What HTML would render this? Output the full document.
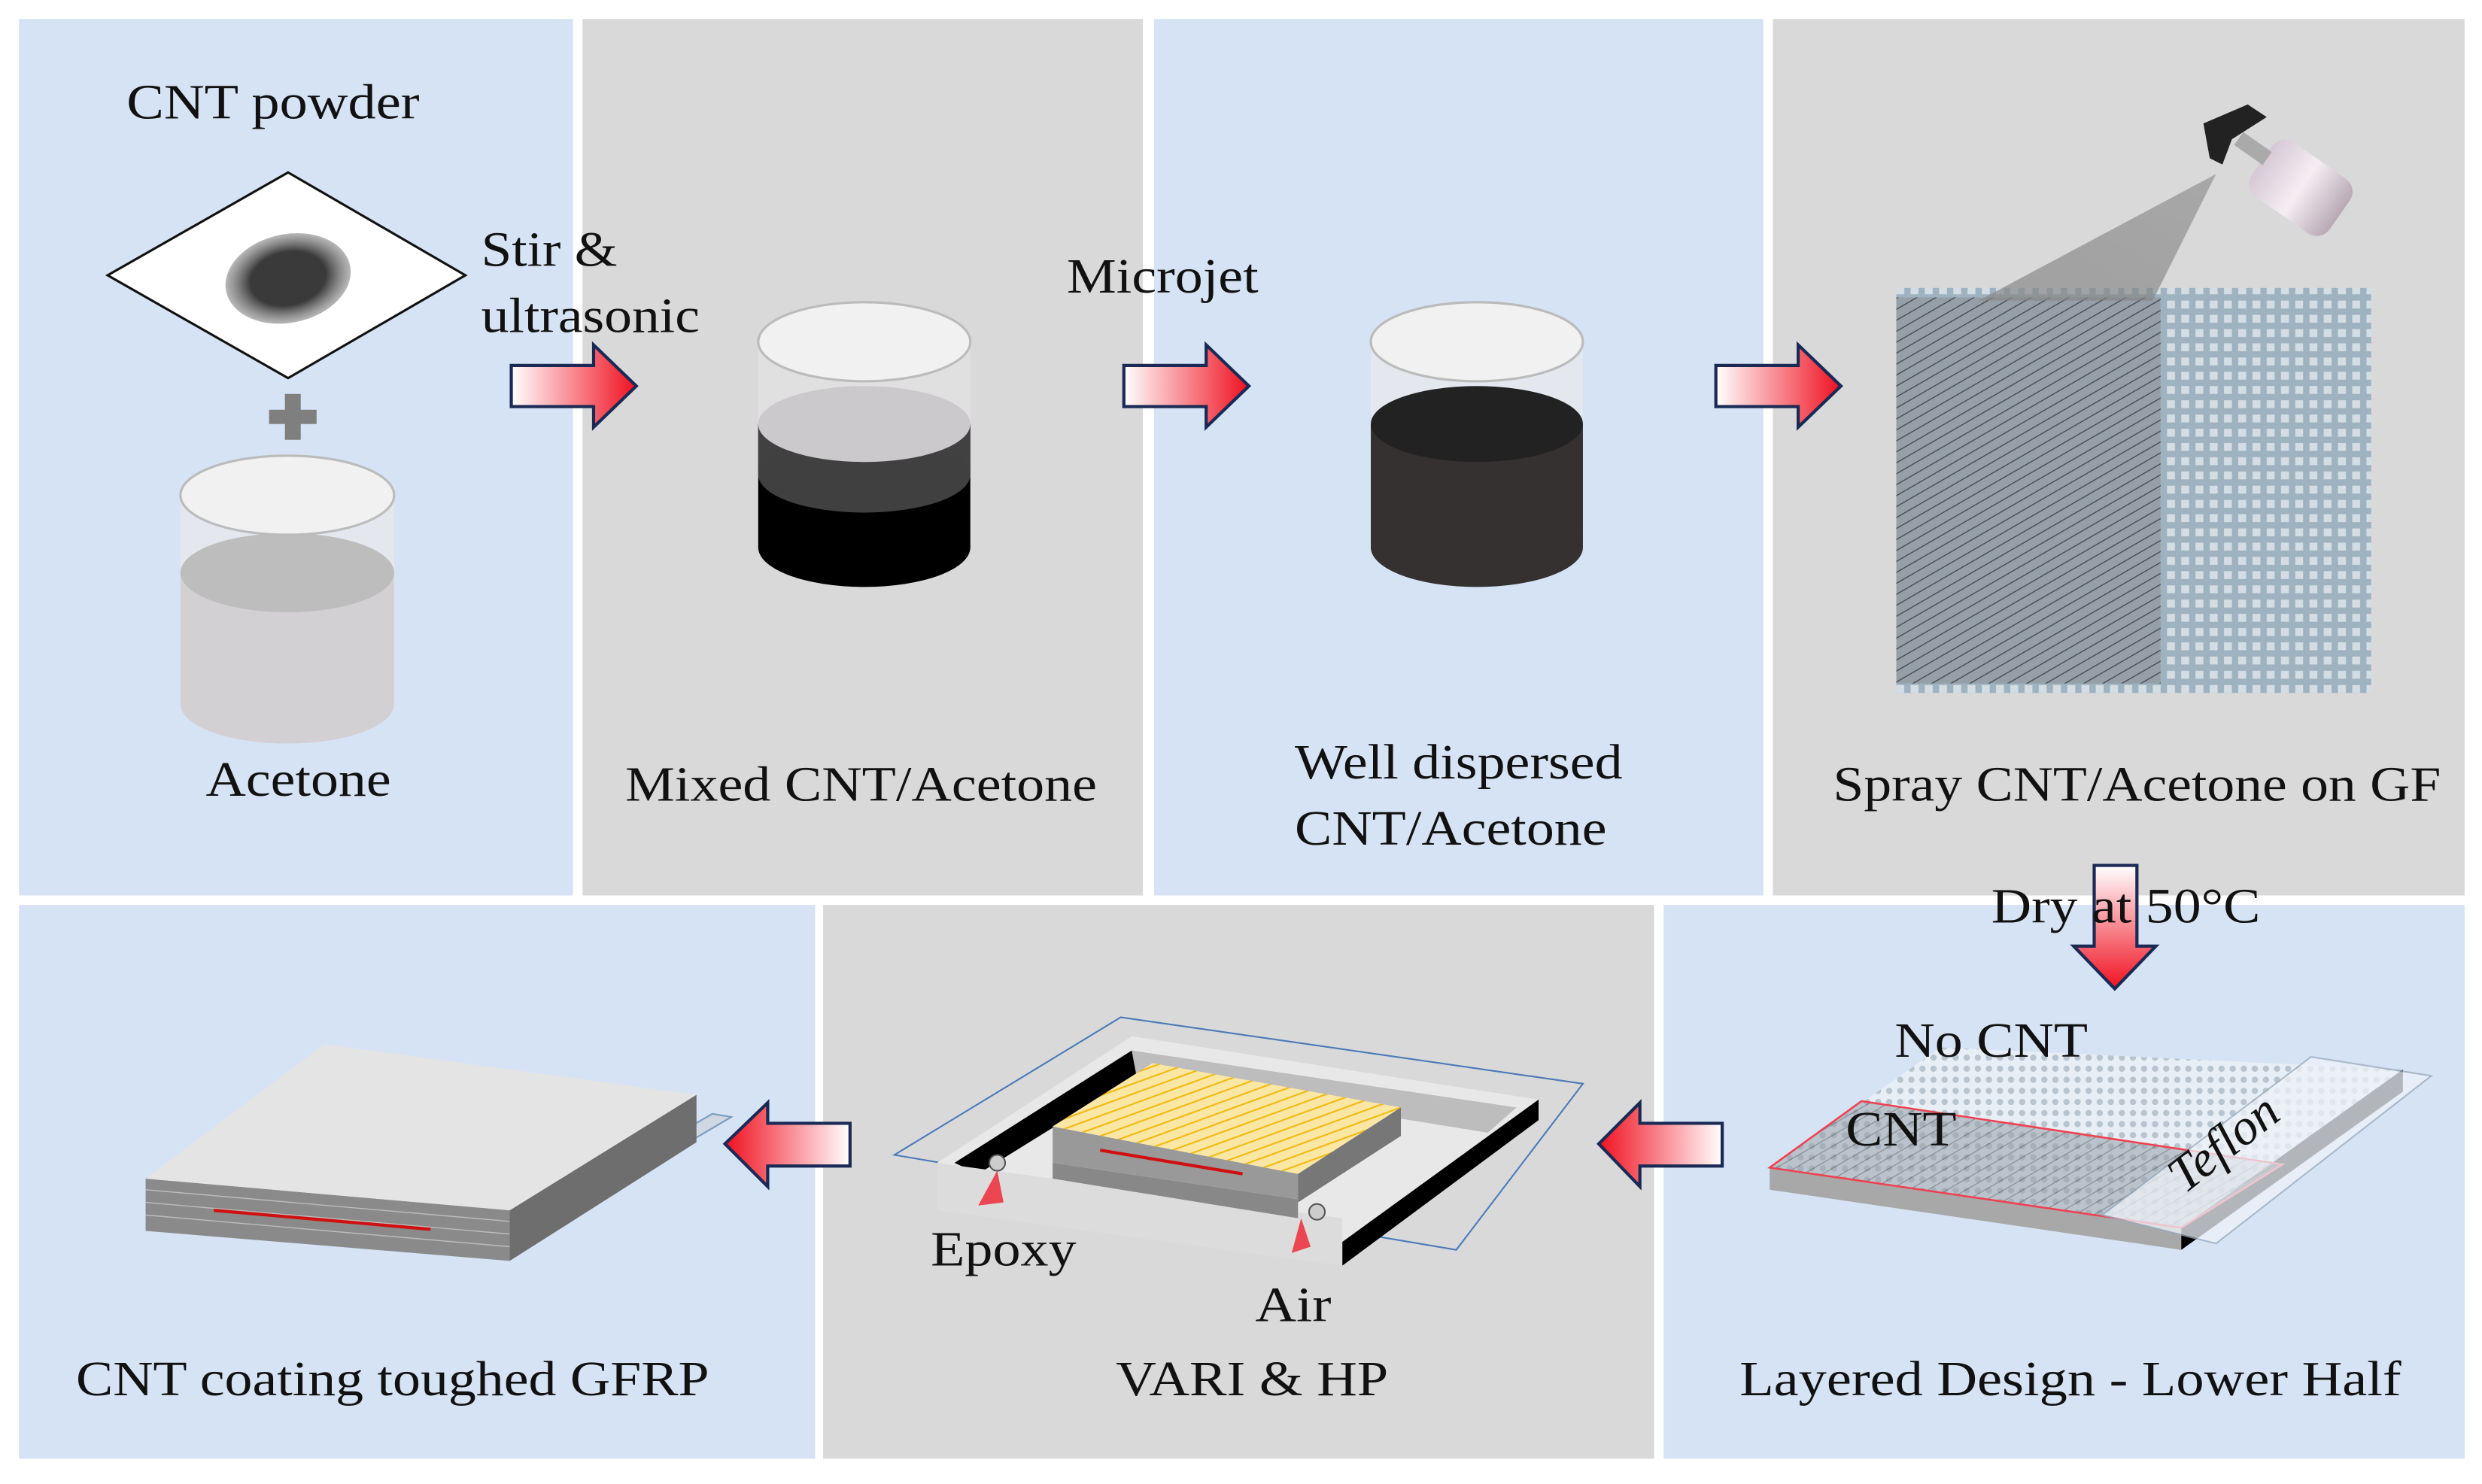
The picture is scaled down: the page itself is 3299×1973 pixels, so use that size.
<!DOCTYPE html>
<html><head><meta charset="utf-8"><style>
html,body{margin:0;padding:0;background:#fff}
svg{display:block}
text{font-family:"Liberation Serif",serif;fill:#111}
</style></head><body>
<svg width="3299" height="1973" viewBox="0 0 1568 938" preserveAspectRatio="none" xmlns="http://www.w3.org/2000/svg">
<defs>
<linearGradient id="ar" x1="0" x2="1" y1="0" y2="0"><stop offset="0" stop-color="#fff"/><stop offset="1" stop-color="#f01020"/></linearGradient>
<linearGradient id="al" x1="1" x2="0" y1="0" y2="0"><stop offset="0" stop-color="#fff"/><stop offset="1" stop-color="#f01020"/></linearGradient>
<linearGradient id="ad" x1="0" x2="0" y1="0" y2="1"><stop offset="0" stop-color="#fff"/><stop offset="1" stop-color="#f01020"/></linearGradient>
<radialGradient id="blob"><stop offset="0.6" stop-color="#3a3a3a"/><stop offset="1" stop-color="#888" stop-opacity="0.6"/></radialGradient>
<linearGradient id="cone" x1="1" x2="0" y1="0" y2="1"><stop offset="0" stop-color="#777" stop-opacity="0.5"/><stop offset="1" stop-color="#888" stop-opacity="0.7"/></linearGradient>
<linearGradient id="gun" x1="0" x2="1"><stop offset="0" stop-color="#d6c8d4"/><stop offset="0.5" stop-color="#f4eef2"/><stop offset="1" stop-color="#b8a8b4"/></linearGradient>
<pattern id="grid" width="9" height="9" patternUnits="userSpaceOnUse"><rect width="9" height="9" fill="#9fb2bf"/><rect x="1" y="1" width="5" height="5" fill="#d4dde4"/></pattern>
<pattern id="hatch" width="6" height="6" patternUnits="userSpaceOnUse" patternTransform="rotate(60)"><rect width="6" height="6" fill="#959fa8"/><line x1="0" y1="0" x2="0" y2="6" stroke="#4a5058" stroke-width="1.4"/></pattern>
<pattern id="dots" width="7" height="7" patternUnits="userSpaceOnUse"><rect width="7" height="7" fill="#e8eef5"/><circle cx="3.5" cy="3.5" r="2" fill="#b8c4cf"/></pattern>
<pattern id="yel" width="6" height="6" patternUnits="userSpaceOnUse" patternTransform="rotate(70)"><rect width="6" height="6" fill="#fbe7a4"/><line x1="0" y1="0" x2="0" y2="6" stroke="#f2b90e" stroke-width="2"/></pattern>
</defs>
<rect width="1568" height="938" fill="#fff"/>
<rect x="12" y="12" width="350" height="554" fill="#d6e3f4"/>
<rect x="368" y="12" width="354" height="554" fill="#d9d9d9"/>
<rect x="729" y="12" width="385" height="554" fill="#d6e3f4"/>
<rect x="1120" y="12" width="437" height="554" fill="#d9d9d9"/>
<rect x="12" y="572" width="503" height="350" fill="#d6e3f4"/>
<rect x="520" y="572" width="525" height="350" fill="#d9d9d9"/>
<rect x="1051" y="572" width="506" height="350" fill="#d6e3f4"/>

<!-- panel 1 -->
<text x="80" y="75" font-size="31" textLength="185" lengthAdjust="spacingAndGlyphs">CNT powder</text>
<polygon points="68,174 182,109 294,174 182,239" fill="#fff" stroke="#111" stroke-width="1.5"/>
<ellipse cx="182" cy="176" rx="40" ry="28" transform="rotate(-12 182 176)" fill="url(#blob)"/>
<rect x="170" y="259" width="30" height="9" fill="#7f7f7f"/>
<rect x="180" y="249" width="10" height="29" fill="#7f7f7f"/>
<rect x="114" y="313" width="135" height="49" fill="#e4e8ee"/>
<rect x="114" y="362" width="135" height="83" fill="#d3d0d3"/>
<ellipse cx="181.5" cy="445" rx="67.5" ry="25" fill="#d3d0d3"/>
<ellipse cx="181.5" cy="362" rx="67.5" ry="25" fill="#bdbdbd"/>
<ellipse cx="181.5" cy="313" rx="67.5" ry="25" fill="#f1f1f1" stroke="#bbb" stroke-width="1.5"/>
<text x="130" y="503" font-size="31" textLength="117" lengthAdjust="spacingAndGlyphs">Acetone</text>
<text x="304" y="168" font-size="31" textLength="86" lengthAdjust="spacingAndGlyphs">Stir &amp;</text>
<text x="304" y="210" font-size="31" textLength="138" lengthAdjust="spacingAndGlyphs">ultrasonic</text>
<polygon points="323,231 375,231 375,218 402,244 375,270 375,257 323,257" fill="url(#ar)" stroke="#1a2a55" stroke-width="2"/>

<!-- panel 2 -->
<rect x="479" y="216" width="134" height="52" fill="#e0e0e0"/>
<rect x="479" y="268" width="134" height="78" fill="#000"/>
<ellipse cx="546" cy="346" rx="67" ry="25" fill="#000"/>
<rect x="479" y="268" width="134" height="32" fill="#414141"/>
<ellipse cx="546" cy="300" rx="67" ry="24" fill="#404040"/>
<ellipse cx="546" cy="268" rx="67" ry="24" fill="#cbc9cb"/>
<ellipse cx="546" cy="216" rx="67" ry="25" fill="#f1f1f1" stroke="#bbb" stroke-width="1.5"/>
<text x="395" y="506" font-size="31" textLength="298" lengthAdjust="spacingAndGlyphs">Mixed CNT/Acetone</text>
<text x="674" y="185" font-size="31" textLength="121" lengthAdjust="spacingAndGlyphs">Microjet</text>
<polygon points="710,231 762,231 762,218 789,244 762,270 762,257 710,257" fill="url(#ar)" stroke="#1a2a55" stroke-width="2"/>

<!-- panel 3 -->
<rect x="866" y="216" width="134" height="52" fill="#e4e8ee"/>
<rect x="866" y="268" width="134" height="78" fill="#353130"/>
<ellipse cx="933" cy="346" rx="67" ry="25" fill="#353130"/>
<ellipse cx="933" cy="268" rx="67" ry="24" fill="#222"/>
<ellipse cx="933" cy="216" rx="67" ry="25" fill="#f1f1f1" stroke="#bbb" stroke-width="1.5"/>
<text x="818" y="492" font-size="31" textLength="207" lengthAdjust="spacingAndGlyphs">Well dispersed</text>
<text x="818" y="534" font-size="31" textLength="197" lengthAdjust="spacingAndGlyphs">CNT/Acetone</text>
<polygon points="1084,231 1136,231 1136,218 1163,244 1136,270 1136,257 1084,257" fill="url(#ar)" stroke="#1a2a55" stroke-width="2"/>

<!-- panel 4 -->
<rect x="1198" y="182" width="300" height="256" fill="url(#grid)"/>
<rect x="1198" y="188" width="167" height="244" fill="url(#hatch)"/>
<polygon points="1400,110 1250,190 1360,190" fill="url(#cone)"/>
<g transform="rotate(35 1450 115)">
<rect x="1425" y="95" width="60" height="42" rx="10" fill="url(#gun)"/>
<rect x="1405" y="108" width="22" height="10" fill="#aaa"/>
</g>
<polygon points="1392,78 1420,66 1432,74 1410,88 1404,104 1396,100" fill="#222"/>
<text x="1158" y="506" font-size="31" textLength="384" lengthAdjust="spacingAndGlyphs">Spray CNT/Acetone on GF</text>
<polygon points="1323,547 1350,547 1350,598 1362,598 1336,625 1310,598 1323,598" fill="url(#ad)" stroke="#1a2a55" stroke-width="2"/>
<text x="1258" y="583" font-size="31" textLength="170" lengthAdjust="spacingAndGlyphs">Dry at 50°C</text>

<!-- bottom right board -->
<polygon points="1118,738 1118,752 1378,790 1378,776" fill="#a8a8a8"/>
<polygon points="1378,776 1378,790 1518,690 1518,676" fill="#000"/>
<polygon points="1118,738 1226,662 1518,676 1378,776" fill="url(#dots)"/>
<polygon points="1118,738 1176,696 1442,736 1378,776" fill="url(#hatch)" opacity="0.55"/>
<polygon points="1118,738 1176,696 1442,736 1378,776" fill="none" stroke="#f04050" stroke-width="1.2"/>
<polygon points="1328,768 1460,668 1536,680 1400,786" fill="#eef2f8" opacity="0.75" stroke="#9ab" stroke-width="1"/>
<text x="1197" y="668" font-size="31" textLength="122" lengthAdjust="spacingAndGlyphs">No CNT</text>
<text x="1166" y="724" font-size="31" textLength="70" lengthAdjust="spacingAndGlyphs">CNT</text>
<text x="1380" y="755" font-size="32" font-style="italic" transform="rotate(-38 1380 755)">Teflon</text>
<polygon points="1088,710 1036,710 1036,697 1010,723 1036,750 1036,737 1088,737" fill="url(#al)" stroke="#1a2a55" stroke-width="2"/>
<text x="1099" y="882" font-size="31" textLength="418" lengthAdjust="spacingAndGlyphs">Layered Design - Lower Half</text>

<!-- VARI -->
<polygon points="565,730 708,643 1000,685 920,790" fill="none" stroke="#4a7ab8" stroke-width="1"/>
<polygon points="592,735 715,655 972,695 848,785" fill="#e8e8e8"/>
<polygon points="603,735 715,664 718,680 618,742" fill="#000"/>
<polygon points="715,664 958,700 940,716 718,680" fill="#bdbdbd"/>
<polygon points="848,785 972,695 972,708 848,800" fill="#000"/>
<polygon points="592,735 848,770 848,800 592,765" fill="#dcdcdc"/>
<polygon points="665,735 665,745 820,770 820,758" fill="#888"/>
<polygon points="665,735 665,712 820,742 820,758" fill="#999"/>
<polygon points="665,712 728,672 885,700 820,742" fill="url(#yel)"/>
<polygon points="820,742 885,700 885,718 820,760" fill="#777"/>
<line x1="695" y1="727" x2="785" y2="742" stroke="#d01010" stroke-width="2"/>
<circle cx="630" cy="735" r="5" fill="#ccc" stroke="#555"/>
<circle cx="832" cy="766" r="5" fill="#ccc" stroke="#555"/>
<polygon points="618,762 630,740 634,760" fill="#f02030" opacity="0.8"/>
<polygon points="822,770 816,792 828,788" fill="#f02030" opacity="0.8"/>
<text x="588" y="800" font-size="31" textLength="92" lengthAdjust="spacingAndGlyphs">Epoxy</text>
<text x="793" y="835" font-size="31" textLength="48" lengthAdjust="spacingAndGlyphs">Air</text>
<text x="705" y="882" font-size="31" textLength="172" lengthAdjust="spacingAndGlyphs">VARI &amp; HP</text>
<polygon points="537,710 485,710 485,697 458,723 485,750 485,737 537,737" fill="url(#al)" stroke="#1a2a55" stroke-width="2"/>

<!-- laminate -->
<polygon points="320,790 462,706 450,704 310,785" fill="#cfd8e2" stroke="#7a9ac0" stroke-width="1"/>
<polygon points="92,745 92,778 322,797 322,765" fill="#8a8a8a"/>
<g stroke="#bbb" stroke-width="0.7"><line x1="92" y1="752" x2="322" y2="772"/><line x1="92" y1="760" x2="322" y2="780"/><line x1="92" y1="768" x2="322" y2="788"/></g>
<line x1="135" y1="765" x2="272" y2="777" stroke="#d01010" stroke-width="2"/>
<polygon points="322,765 440,692 440,722 322,797" fill="#6e6e6e"/>
<polygon points="92,745 205,660 440,692 322,765" fill="#e4e4e4"/>
<text x="48" y="882" font-size="31" textLength="400" lengthAdjust="spacingAndGlyphs">CNT coating toughed GFRP</text>
</svg>
</body></html>
